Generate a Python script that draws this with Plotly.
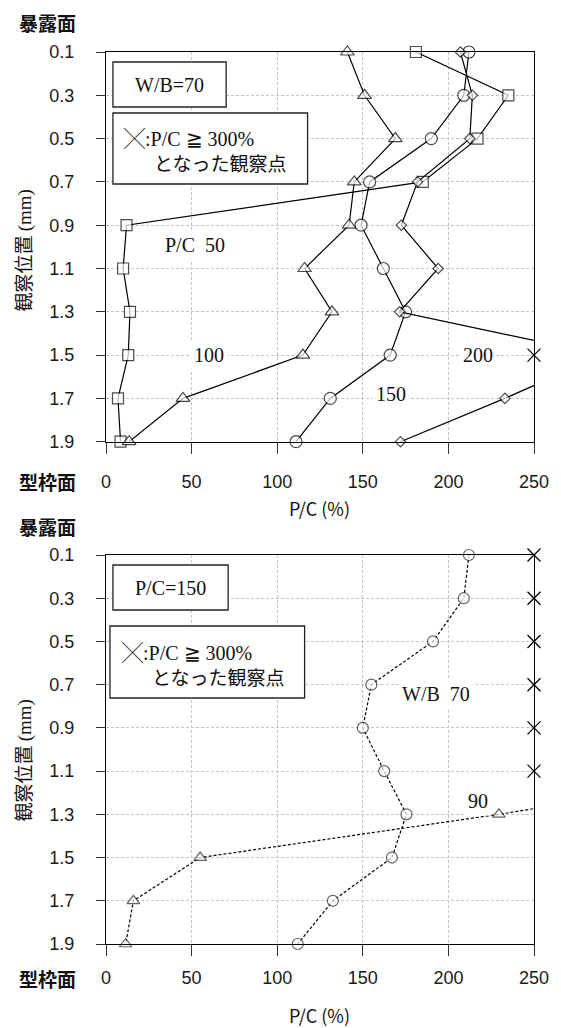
import plotly.graph_objects as go

# ---------------- data ----------------
depth = [0.1, 0.3, 0.5, 0.7, 0.9, 1.1, 1.3, 1.5, 1.7, 1.9]
depth_labels = ["0.1", "0.3", "0.5", "0.7", "0.9", "1.1", "1.3", "1.5", "1.7", "1.9"]
x_ticks = [0, 50, 100, 150, 200, 250]
X_MAX = 250

# upper chart: W/B = 70, series by P/C
pc50 = [181, 235, 217, 185, 12, 10, 14, 13, 7, 8.5]
pc100 = [141, 151, 169, 145, 142, 116, 132, 115, 45, 13.5]
pc150 = [212, 209, 190, 154, 149, 162, 175, 166, 131, 111]
pc200 = [207, 214, 212.5, 182, 172.5, 194, 171.5, 290, 233, 172]
top_over_depth = [1.5]  # P/C >= 300% observation points

# lower chart: P/C = 150, series by W/B
wb70 = [212, 209, 191, 155, 150, 162.5, 175.5, 167, 132.5, 112]
wb90 = [None, None, None, None, None, 385, 229.5, 55, 16, 11.5]
bot_over_depth = [0.1, 0.3, 0.5, 0.7, 0.9, 1.1]

# ---------------- geometry helpers (layout only) ----------------
W, H = 561, 1028
L, R, T, B = 106, 24, 52, 84
PW, PH = W - L - R, H - T - B
TOP_PX = (52, 441.7)
BOT_PX = (555, 944)


def px_x(p):
    return (p - L) / PW


def px_y(p):
    return (H - B - p) / PH


top_dom = [px_y(TOP_PX[1]), px_y(TOP_PX[0])]
bot_dom = [px_y(BOT_PX[1]), px_y(BOT_PX[0])]

SANS = "Liberation Sans, Arial, sans-serif"
SERIF = "Liberation Serif, Times New Roman, serif"
JP = "Noto Sans CJK JP, sans-serif"

fig = go.Figure()


def add_series(vals, symbol, size, xa, ya, dash="solid", mline="black"):
    sizes = [size if (v is not None and v <= X_MAX) else 0 for v in vals]
    fig.add_trace(go.Scatter(
        x=vals, y=depth, xaxis=xa, yaxis=ya, mode="lines+markers",
        line=dict(color="black", width=1.2, dash=dash),
        marker=dict(symbol=symbol, size=sizes, color="white",
                    line=dict(color=mline, width=1.2)),
        cliponaxis=False, connectgaps=False, hoverinfo="skip"))


def add_over(depths, xa, ya):
    fig.add_trace(go.Scatter(
        x=[X_MAX for _ in depths], y=depths, xaxis=xa, yaxis=ya,
        mode="markers", marker=dict(symbol="x-thin-open", size=13, color="black",
                                    line=dict(color="black", width=1.3)),
        cliponaxis=False, hoverinfo="skip"))


add_series(pc50, "square", 11, "x", "y")
add_series(pc100, "triangle-up", 12, "x", "y")
add_series(pc150, "circle", 12, "x", "y")
add_series(pc200, "diamond", 8, "x", "y")
add_over(top_over_depth, "x", "y")

add_series(wb70, "circle", 11, "x2", "y2", dash="3px,2px", mline="#222")
add_series(wb90, "triangle-up", 11, "x2", "y2", dash="3px,2px", mline="#222")
add_over(bot_over_depth, "x2", "y2")

xcommon = dict(range=[0, X_MAX], tickvals=x_ticks, ticks="outside", ticklen=11,
               tickwidth=1.3, tickcolor="#333", showline=True, mirror=True,
               linecolor="black", linewidth=1.3, showgrid=True, gridcolor="#c4c4c4",
               griddash="3px,2px", gridwidth=1, zeroline=False,
               tickfont=dict(family=SANS, size=18, color="#1a1a1a"))
ycommon = dict(range=[1.9, 0.1], tickvals=depth, ticktext=depth_labels,
               ticks="outside", ticklen=9, tickwidth=1.3, tickcolor="#333",
               showline=True, mirror=True, linecolor="black", linewidth=1.3,
               showgrid=True, gridcolor="#c4c4c4", griddash="3px,2px", gridwidth=1,
               zeroline=False, ticklabelstandoff=18,
               tickfont=dict(family=SANS, size=18, color="#1a1a1a"))

fig.update_layout(
    width=W, height=H, margin=dict(l=L, r=R, t=T, b=B),
    plot_bgcolor="white", paper_bgcolor="white", showlegend=False,
    xaxis=dict(domain=[0, 1], anchor="y", ticklabelstandoff=13, **xcommon),
    yaxis=dict(domain=top_dom, anchor="x", **ycommon),
    xaxis2=dict(domain=[0, 1], anchor="y2", ticklabelstandoff=6, **xcommon),
    yaxis2=dict(domain=bot_dom, anchor="x2", **ycommon),
)

ann = []
shapes = []


def ptext(text, xp, yp, size=20, family=JP, xanchor="center", yanchor="middle", **kw):
    ann.append(dict(text=text, x=px_x(xp), y=px_y(yp), xref="paper", yref="paper",
                    showarrow=False, xanchor=xanchor, yanchor=yanchor,
                    font=dict(family=family, size=size, color="#111"), **kw))


def dtext(text, x, y, xa, ya, size=20):
    ann.append(dict(text=text, x=x, y=y, xref=xa, yref=ya, showarrow=False,
                    font=dict(family=SERIF, size=size, color="#111"),
                    bgcolor="white", borderpad=3))


def box(x0, y0, x1, y1):
    shapes.append(dict(type="rect", xref="paper", yref="paper",
                       x0=px_x(x0), x1=px_x(x1), y0=px_y(y1), y1=px_y(y0),
                       fillcolor="white", line=dict(color="#222", width=1.3),
                       layer="above"))


for (yt, yb, ylab, yx, b1, b2, l1y, l2y, xs) in [
    (22, 481, 251, 508, (113, 62, 227, 107), (113, 113, 309, 184), 137, 163, 122),
    (526, 978, 761, 1015, (113, 565, 229, 610), (110, 626, 306, 698), 651, 676, 120),
]:
    ptext("<b>暴露面</b>", 47, yt, size=19)
    ptext("<b>型枠面</b>", 47, yb, size=19)
    ptext('観察位置 <span style="font-family:Liberation Serif">(mm)</span>',
          21, ylab, size=19, textangle=-90)
    ptext("P/C (%)", 321, yx, size=18)
    box(*b1)
    box(*b2)
    ptext('<span style="font-size:21px;font-family:Noto Sans CJK JP">╳</span>'
          '<span style="font-family:Liberation Serif">:P/C ≧ 300%</span>',
          xs, l1y, size=20, xanchor="left")
    ptext("となった観察点", xs + 30, l2y, size=19, xanchor="left")

ptext("W/B=70", 170, 84.5, size=20, family=SERIF)
ptext("P/C=150", 171, 587.5, size=20, family=SERIF)

dtext("P/C\u00a0\u00a050", 52, 0.99, "x", "y")
dtext("100", 60, 1.5, "x", "y")
dtext("150", 166.5, 1.68, "x", "y")
dtext("200", 217.5, 1.5, "x", "y")
dtext("W/B\u00a0\u00a070", 193, 0.745, "x2", "y2")
dtext("90", 217.5, 1.24, "x2", "y2")

fig.update_layout(annotations=ann, shapes=shapes)
fig.write_html("out.html")
